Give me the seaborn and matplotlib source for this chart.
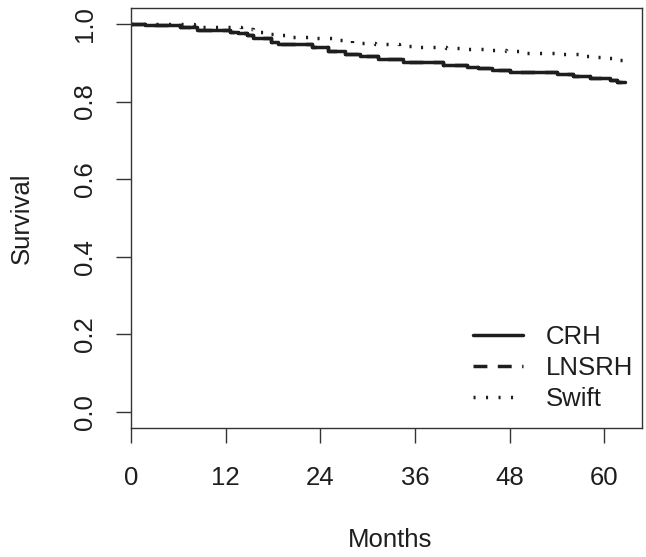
import matplotlib
matplotlib.use("Agg")
import matplotlib.pyplot as plt
import seaborn as sns
import pandas as pd

# ------------------------------------------
# DATA
# ------------------------------------------
months_crh = [0, 1.8, 6.2, 8.4, 12.6, 13.6, 14.7, 15.5, 17.7, 18.7, 22.9, 25.0, 27.2, 29.1,
              31.3, 34.5, 39.6, 42.6, 44.0, 45.8, 48.1, 54.0, 56.1, 58.2, 60.8, 61.6, 62.6]
surv_crh = [1.0, 0.997, 0.993, 0.985, 0.980, 0.976, 0.972, 0.963, 0.954, 0.948, 0.940, 0.929,
            0.923, 0.918, 0.909, 0.903, 0.894, 0.890, 0.886, 0.881, 0.877, 0.871, 0.866,
            0.860, 0.856, 0.850, 0.850]

months_lnsrh = [0, 1.8, 6.2, 8.4, 12.6, 13.6, 14.7, 15.5, 17.7, 18.7, 22.9, 25.0, 27.2, 29.1,
                31.3, 34.5, 39.6, 42.6, 44.0, 45.8, 48.1, 54.0, 56.1, 58.2, 60.8, 61.6, 62.6]
surv_lnsrh = [1.0, 0.997, 0.993, 0.985, 0.980, 0.976, 0.972, 0.963, 0.954, 0.948, 0.940, 0.929,
              0.923, 0.918, 0.909, 0.903, 0.894, 0.890, 0.886, 0.881, 0.877, 0.871, 0.866,
              0.860, 0.856, 0.850, 0.850]

months_swift = [0, 8.0, 14.0, 15.5, 17.0, 19.0, 20.5, 23.0, 26.5, 28.0, 31.0, 34.0, 36.0, 40.0,
                42.5, 45.0, 47.5, 49.5, 54.5, 57.0, 59.0, 60.5, 61.5, 62.6]
surv_swift = [1.0, 0.992, 0.986, 0.979, 0.975, 0.971, 0.967, 0.963, 0.958, 0.952, 0.949, 0.944,
              0.941, 0.939, 0.936, 0.933, 0.929, 0.926, 0.922, 0.918, 0.915, 0.912, 0.907, 0.907]

groups = ["CRH", "LNSRH", "Swift"]
x_ticks = [0, 12, 24, 36, 48, 60]
y_ticks = [0.0, 0.2, 0.4, 0.6, 0.8, 1.0]

df = pd.concat([
    pd.DataFrame({"months": months_crh, "survival": surv_crh, "group": "CRH"}),
    pd.DataFrame({"months": months_lnsrh, "survival": surv_lnsrh, "group": "LNSRH"}),
    pd.DataFrame({"months": months_swift, "survival": surv_swift, "group": "Swift"}),
], ignore_index=True)

# ------------------------------------------
# STYLE
# ------------------------------------------
sns.set_style("ticks")
plt.rcParams["font.family"] = ["Liberation Sans", "DejaVu Sans"]
ink = "#1e1e1e"
axis_col = "#333333"
fs = 18.5

fig = plt.figure(figsize=(6.46, 5.57), dpi=100)
ax = fig.add_axes([131 / 646, 1 - 428 / 557, 511 / 646, 420 / 557])

sns.lineplot(data=df, x="months", y="survival", hue="group", style="group",
             hue_order=groups, style_order=groups,
             palette=[ink] * 3,
             dashes={"CRH": "", "LNSRH": (4, 3), "Swift": (0.6, 3.0)},
             drawstyle="steps-post", linewidth=2.5, estimator=None, sort=False, ax=ax)

ax.set_xlim(0, 64.8)
ax.set_ylim(-0.041, 1.041)
ax.set_xticks(x_ticks)
ax.set_xticklabels([str(t) for t in x_ticks])
ax.set_yticks(y_ticks)
ax.set_yticklabels([f"{t:.1f}" for t in y_ticks])

for s in ax.spines.values():
    s.set_visible(True)
    s.set_color(axis_col)
    s.set_linewidth(1.0)

ax.tick_params(axis="both", direction="out", length=10.8, width=1.0, color=axis_col,
               labelsize=fs, labelcolor=ink)
ax.tick_params(axis="x", pad=16.5)
ax.tick_params(axis="y", pad=13.5, labelrotation=90)
for lbl in ax.get_yticklabels():
    lbl.set_va("center")

ax.set_xlabel("Months", fontsize=fs, color=ink)
ax.set_ylabel("Survival", fontsize=fs, color=ink)
ax.xaxis.set_label_coords(0.506, -0.267)
ax.xaxis.label.set_va("center")
ax.yaxis.set_label_coords(-0.213, 0.5)
ax.yaxis.label.set_va("center")

old = ax.get_legend()
handles = old.legend_handles
labels = [t.get_text() for t in old.get_texts()]
old.remove()
ax.legend(handles, labels, loc="upper left", bbox_to_anchor=(342 / 511, 103 / 420),
          frameon=False, fontsize=fs, handlelength=1.95, handletextpad=0.9,
          borderpad=0, borderaxespad=0, labelspacing=0.28, labelcolor=ink)

fig.savefig("out.png", dpi=100)
